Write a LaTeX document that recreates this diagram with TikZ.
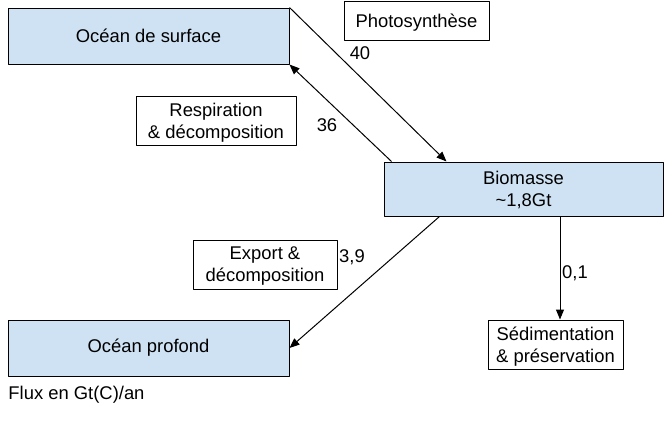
\documentclass[tikz,border=0pt]{standalone}
\usepackage{fontspec}
\setmainfont{Liberation Sans}
\usetikzlibrary{arrows.meta}
\definecolor{boxblue}{HTML}{CFE2F3}
\begin{document}
\begin{tikzpicture}[x=1pt, y=-1pt, line width=1pt, line join=round,
		font=\fontsize{18.4}{22}\selectfont, >={Triangle[length=10pt,width=8pt]},
		pool/.style={draw, fill=boxblue, inner sep=0pt, align=center, minimum width=281pt, minimum height=56pt},
		proc/.style={draw, fill=white, inner sep=0pt, align=center, text depth=0pt, minimum height=49pt},
		flux/.style={inner sep=0pt}]
		\useasboundingbox (0,0) rectangle (665,432);
		\node[pool] (surf) at (148.5,36) {Océan de surface};
		\node[pool] (prof) at (148.5,348) {Océan profond};
		\node[pool, minimum width=279pt, minimum height=54pt, text depth=-4pt] (bio) at (523.5,189) {Biomasse\\\textasciitilde1,8Gt};
		\node[proc, minimum width=145pt, minimum height=39pt] (photo) at (416.5,20.5) {Photosynthèse};
		\node[proc, minimum width=160pt] (resp) at (216,120.5) {Respiration\\\& décomposition};
		\node[proc, minimum width=144pt] (expo) at (265,264.5) {Export \&\\décomposition};
		\node[proc, minimum width=135pt] (sed) at (555.5,344.5) {Sédimentation\\\& préservation};
		\coordinate (sedtop) at ([xshift=4.5pt]sed.north);
		\draw[->] (surf.north east) -- ([xshift=63pt]bio.north west);
		\draw[->] ([xshift=8pt]bio.north west) -- (surf.south east);
		\draw[->] ([xshift=56pt]bio.south west) -- (prof.east);
		\draw[->] (bio.south -| sedtop) -- (sedtop);
		\node[flux] (f40) at (360,53) {40};
		\node[flux] (f36) at (327,125) {36};
		\node[flux] (f39) at (352,257) {3,9};
		\node[flux] (f01) at (575,273) {0,1};
		\node[flux, anchor=west] (unit) at (8,395) {Flux en Gt(C)/an};
\end{tikzpicture}
\end{document}
